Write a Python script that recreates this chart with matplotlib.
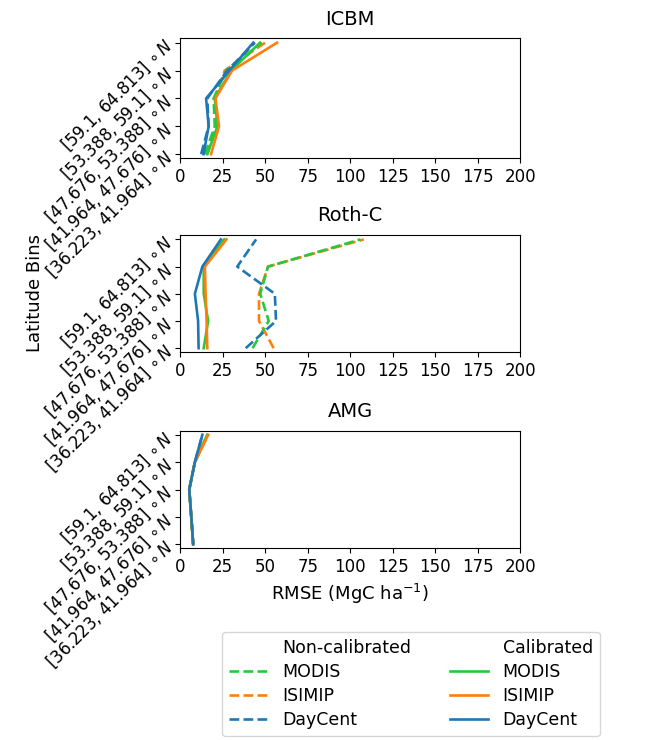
import numpy as np
import matplotlib
matplotlib.use('Agg')
import matplotlib.pyplot as plt
from matplotlib.lines import Line2D

# --- data (latitude bin index 0 = southernmost) ---
lat_bins = ['[36.223, 41.964] $\\circ\\,N$', '[41.964, 47.676] $\\circ\\,N$',
            '[47.676, 53.388] $\\circ\\,N$', '[53.388, 59.1] $\\circ\\,N$',
            '[59.1, 64.813] $\\circ\\,N$']
models = ['ICBM', 'Roth-C', 'AMG']

# non-calibrated (dashed)
icbm_nc_modis = [14.6, 20.4, 19.7, 27.0, 48.0]
icbm_nc_isimip = [16.0, 21.1, 20.4, 26.2, 50.0]
icbm_nc_daycent = [12.4, 16.8, 16.0, 27.7, 44.0]
# calibrated (solid)
icbm_c_modis = [16.0, 22.0, 20.4, 30.0, 47.0]
icbm_c_isimip = [18.2, 22.9, 20.8, 30.6, 57.0]
icbm_c_daycent = [13.8, 16.8, 15.3, 29.0, 43.0]

rothc_nc_modis = [42.6, 52.1, 47.1, 51.7, 106.0]
rothc_nc_isimip = [55.0, 46.4, 46.4, 51.7, 108.0]
rothc_nc_daycent = [38.6, 56.4, 55.7, 33.6, 44.7]
rothc_c_modis = [13.9, 16.5, 13.9, 13.9, 26.0]
rothc_c_isimip = [16.0, 15.6, 15.0, 14.6, 27.3]
rothc_c_daycent = [10.9, 10.6, 8.7, 13.1, 24.0]

amg_nc_modis = [7.7, 6.6, 5.4, 8.7, 16.0]
amg_nc_isimip = [7.7, 6.6, 5.4, 8.7, 16.5]
amg_nc_daycent = [7.7, 6.6, 5.4, 8.7, 13.1]
amg_c_modis = [7.7, 6.6, 5.4, 8.7, 16.0]
amg_c_isimip = [7.7, 6.6, 5.4, 8.7, 16.5]
amg_c_daycent = [7.7, 6.6, 5.4, 8.7, 13.1]

data = {
    'ICBM': (icbm_nc_modis, icbm_nc_isimip, icbm_nc_daycent,
             icbm_c_modis, icbm_c_isimip, icbm_c_daycent),
    'Roth-C': (rothc_nc_modis, rothc_nc_isimip, rothc_nc_daycent,
               rothc_c_modis, rothc_c_isimip, rothc_c_daycent),
    'AMG': (amg_nc_modis, amg_nc_isimip, amg_nc_daycent,
            amg_c_modis, amg_c_isimip, amg_c_daycent),
}

c_modis = '#28c83c'
c_isimip = '#ff7f0e'
c_daycent = '#1f77b4'

plt.rcParams['font.size'] = 12

fig = plt.figure(figsize=(6.62, 7.4), dpi=100)
# axes boxes in figure fractions
boxes = [[0.272, 0.786, 0.514, 0.162],
         [0.272, 0.524, 0.514, 0.158],
         [0.272, 0.259, 0.514, 0.159]]

y = np.arange(len(lat_bins))
lw = 1.9
for name, box in zip(models, boxes):
    ax = fig.add_axes(box)
    nm, ni, nd, cm, ci, cd = data[name]
    ax.plot(ni, y, '--', color=c_isimip, lw=lw)
    ax.plot(nm, y, '--', color=c_modis, lw=lw)
    ax.plot(nd, y, '--', color=c_daycent, lw=lw)
    ax.plot(cm, y, '-', color=c_modis, lw=lw)
    ax.plot(ci, y, '-', color=c_isimip, lw=lw)
    ax.plot(cd, y, '-', color=c_daycent, lw=lw)
    ax.set_xlim(0, 200)
    ax.set_ylim(-0.15, 4.15)
    ax.set_xticks(np.arange(0, 201, 25))
    ax.set_yticks(y)
    ax.set_yticklabels(lat_bins, rotation=45, ha='right', va='center',
                       rotation_mode='anchor')
    ax.set_title(name, fontsize=14, pad=10)

ax.set_xlabel('RMSE (MgC ha$^{-1}$)', fontsize=13)
fig.text(0.053, 0.604, 'Latitude Bins', rotation=90, ha='center', va='center',
         fontsize=13)

blank = Line2D([], [], color='none')
handles = [blank,
           Line2D([], [], ls='--', color=c_modis, lw=lw),
           Line2D([], [], ls='--', color=c_isimip, lw=lw),
           Line2D([], [], ls='--', color=c_daycent, lw=lw),
           blank,
           Line2D([], [], ls='-', color=c_modis, lw=lw),
           Line2D([], [], ls='-', color=c_isimip, lw=lw),
           Line2D([], [], ls='-', color=c_daycent, lw=lw)]
labels = ['Non-calibrated', 'MODIS', 'ISIMIP', 'DayCent',
          'Calibrated', 'MODIS', 'ISIMIP', 'DayCent']
fig.legend(handles, labels, ncol=2, loc='upper center',
           bbox_to_anchor=(0.621, 0.146), borderaxespad=0,
           handlelength=2.2, handletextpad=0.85, columnspacing=2.2,
           labelspacing=0.35, fontsize=12.5)

fig.savefig('out.png', dpi=100)
